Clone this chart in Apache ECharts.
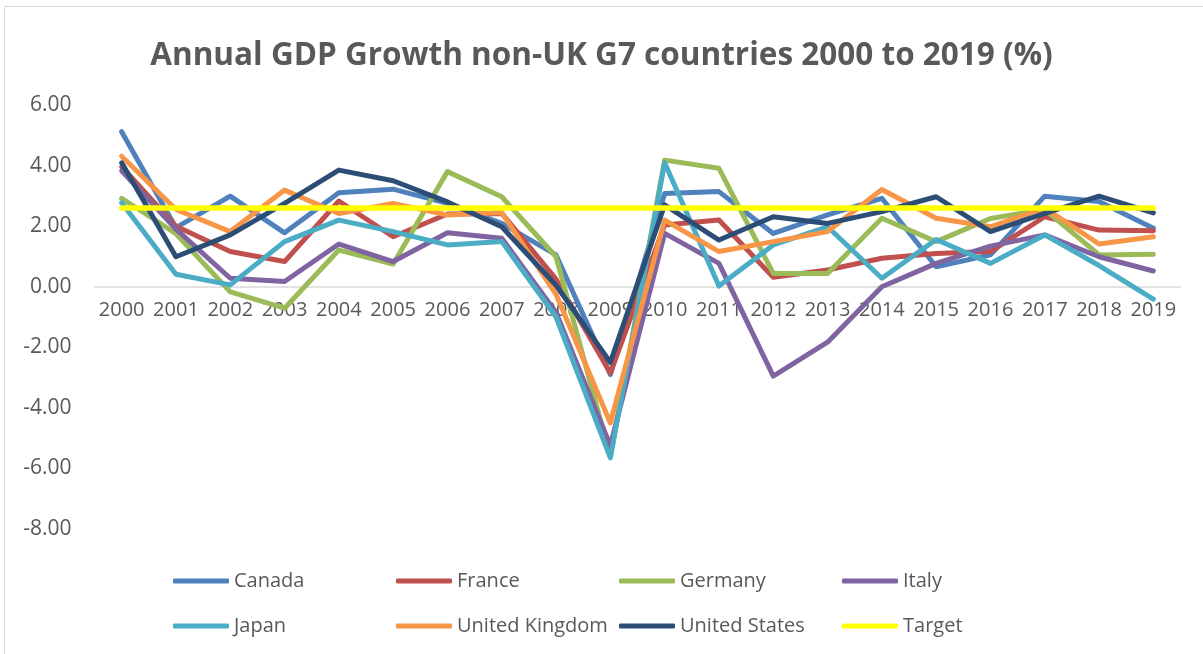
<!DOCTYPE html>
<html>
<head>
<meta charset="utf-8">
<script src="https://cdn.jsdelivr.net/npm/echarts@6/dist/echarts.min.js"></script>
<style>
  html, body { margin: 0; padding: 0; background: #ffffff; }
  #chart { width: 1203px; height: 654px; }
</style>
</head>
<body>
<div id="chart"></div>
<script>
// Annual real GDP growth (%) by country, 2000-2019
const years = ['2000','2001','2002','2003','2004','2005','2006','2007','2008','2009',
               '2010','2011','2012','2013','2014','2015','2016','2017','2018','2019'];

const canada  = [5.12, 1.95, 2.99, 1.78, 3.10, 3.22, 2.75, 2.09, 1.05, -2.90, 3.08, 3.14, 1.76, 2.37, 2.92, 0.66, 1.05, 2.99, 2.81, 1.93];
const france  = [3.96, 2.00, 1.16, 0.83, 2.83, 1.65, 2.40, 2.42, 0.25, -2.85, 2.04, 2.20, 0.31, 0.55, 0.94, 1.10, 1.16, 2.31, 1.87, 1.85];
const germany = [2.92, 1.75, -0.17, -0.71, 1.21, 0.75, 3.80, 2.97, 0.99, -5.60, 4.18, 3.91, 0.44, 0.44, 2.26, 1.49, 2.25, 2.55, 1.05, 1.07];
const italy   = [3.83, 1.90, 0.28, 0.17, 1.41, 0.83, 1.78, 1.60, -0.85, -5.25, 1.76, 0.77, -2.95, -1.83, 0.00, 0.77, 1.34, 1.71, 0.99, 0.52];
const japan   = [2.77, 0.41, 0.06, 1.49, 2.20, 1.82, 1.38, 1.49, -1.00, -5.65, 4.09, 0.02, 1.38, 1.98, 0.28, 1.56, 0.77, 1.71, 0.70, -0.41];
const uk      = [4.31, 2.55, 1.82, 3.19, 2.42, 2.75, 2.37, 2.45, -0.25, -4.50, 2.20, 1.16, 1.49, 1.82, 3.21, 2.26, 1.98, 2.60, 1.41, 1.65];
const us      = [4.09, 0.99, 1.71, 2.75, 3.85, 3.50, 2.80, 1.98, 0.05, -2.50, 2.70, 1.54, 2.31, 2.09, 2.48, 2.97, 1.82, 2.42, 2.99, 2.44];
const target  = [2.6, 2.6, 2.6, 2.6, 2.6, 2.6, 2.6, 2.6, 2.6, 2.6, 2.6, 2.6, 2.6, 2.6, 2.6, 2.6, 2.6, 2.6, 2.6, 2.6];

const seriesNames = ['Canada','France','Germany','Italy','Japan','United Kingdom','United States','Target'];
const seriesData  = [canada, france, germany, italy, japan, uk, us, target];
const colors = ['#4F81BD','#C0504D','#9BBB59','#8064A2','#4BACC6','#F79646','#2C4D75','#FFFF00'];

const textColor = '#595959';
const fontFamily = "'Open Sans', sans-serif";

const Y_MIN = -8, Y_MAX = 6;
const GRID_TOP = 105, GRID_BOTTOM = 125, CHART_H = 654;
// category axis sits on the zero line: shift it up from the grid bottom
const plotH = CHART_H - GRID_TOP - GRID_BOTTOM;
const zeroShift = plotH * (0 - Y_MIN) / (Y_MAX - Y_MIN);

const chart = echarts.init(document.getElementById('chart'), null, { renderer: 'canvas' });

const legendCommon = {
  orient: 'horizontal',
  itemWidth: 56,
  itemHeight: 5,
  itemGap: 0,
  icon: 'roundRect',
  selectedMode: false,
  textStyle: {
    color: textColor,
    fontFamily: fontFamily,
    fontSize: 20,
    width: 162,
    overflow: 'none',
    lineHeight: 24
  }
};

chart.setOption({
  animation: false,
  backgroundColor: '#ffffff',
  color: colors,
  title: {
    text: 'Annual GDP Growth non-UK G7 countries 2000 to 2019 (%)',
    left: 'center',
    top: 35,
    textStyle: {
      color: textColor,
      fontFamily: fontFamily,
      fontWeight: 'bold',
      fontSize: 31.5
    }
  },
  graphic: [{
    type: 'rect',
    silent: true,
    shape: { x: 4.5, y: 6.5, width: 1250, height: 700 },
    style: { fill: 'none', stroke: '#D9D9D9', lineWidth: 1 }
  }],
  legend: [
    Object.assign({}, legendCommon, { left: 168, top: 564, data: seriesNames.slice(0, 4) }),
    Object.assign({}, legendCommon, { left: 168, top: 609, data: seriesNames.slice(4) })
  ],
  grid: { left: 94.5, right: 22.5, top: GRID_TOP, bottom: GRID_BOTTOM, containLabel: false },
  xAxis: {
    type: 'category',
    data: years,
    boundaryGap: true,
    offset: -zeroShift,
    axisLine: { show: true, onZero: false, lineStyle: { color: '#D9D9D9', width: 1.5 } },
    axisTick: { show: false },
    splitLine: { show: false },
    axisLabel: {
      interval: 0,
      margin: 14,
      color: textColor,
      fontFamily: fontFamily,
      fontSize: 20
    }
  },
  yAxis: {
    type: 'value',
    min: Y_MIN,
    max: Y_MAX,
    interval: 2,
    axisLine: { show: false },
    axisTick: { show: false },
    splitLine: { show: false },
    axisLabel: {
      margin: 23,
      color: textColor,
      fontFamily: fontFamily,
      fontSize: 21,
      formatter: v => v.toFixed(2)
    }
  },
  series: seriesNames.map((name, i) => ({
    name: name,
    type: 'line',
    data: seriesData[i],
    symbol: 'none',
    smooth: false,
    lineStyle: {
      width: name === 'Target' ? 5.5 : 5,
      color: colors[i],
      cap: 'round',
      join: 'round'
    },
    itemStyle: { color: colors[i] },
    z: 2 + i
  }))
});
</script>
</body>
</html>
